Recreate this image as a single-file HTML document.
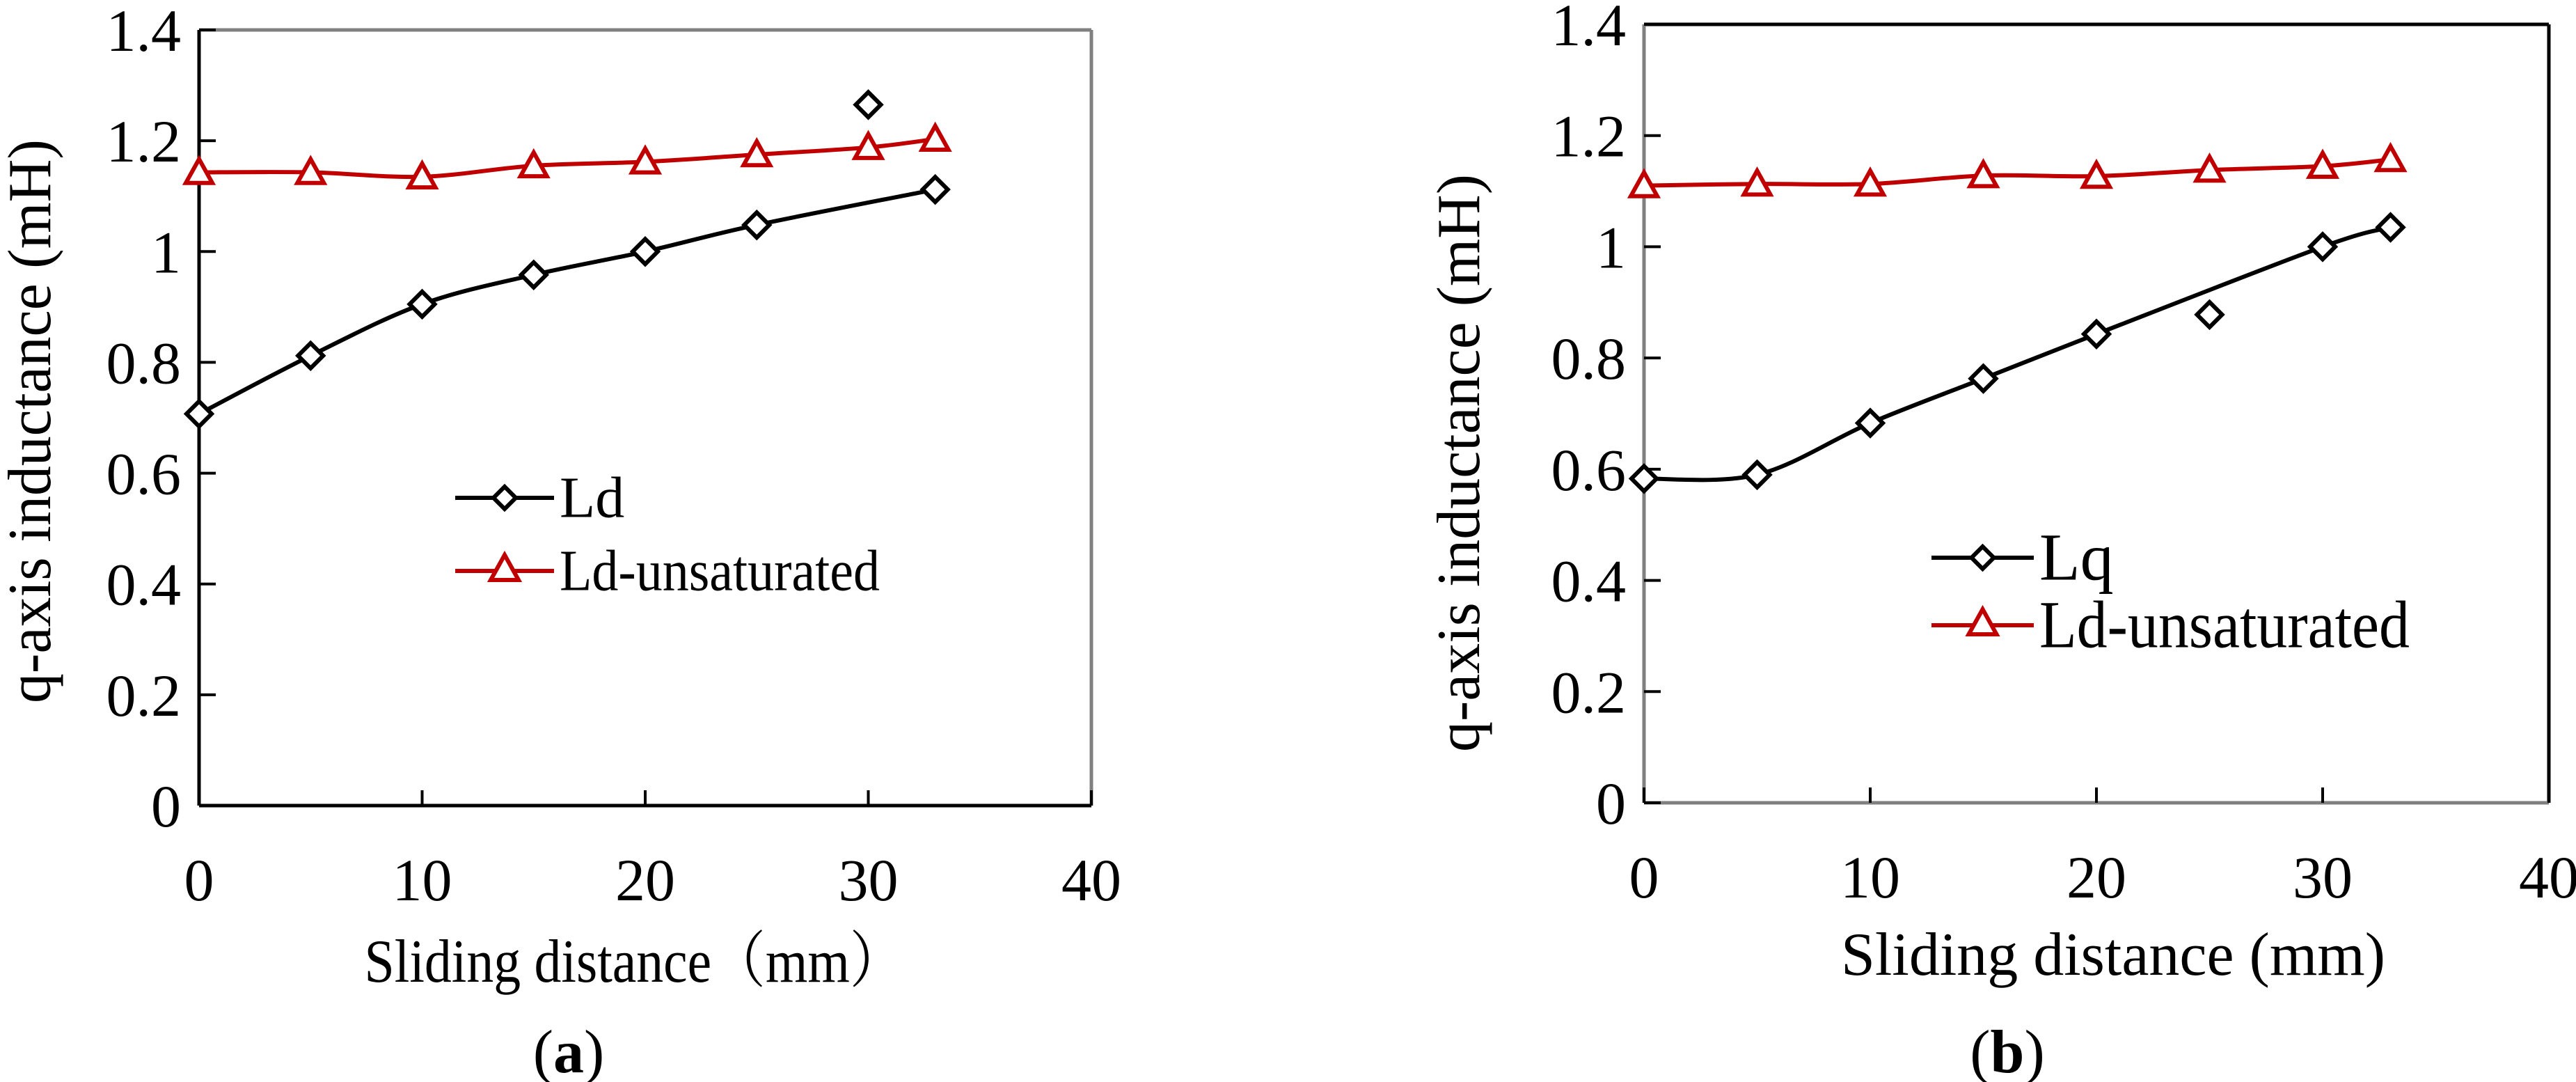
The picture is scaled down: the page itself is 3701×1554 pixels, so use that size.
<!DOCTYPE html>
<html><head><meta charset="utf-8">
<style>
html,body{margin:0;padding:0;background:#fff;}
svg{display:block;}
svg text{font-family:"Liberation Serif","Times New Roman","DejaVu Serif","Noto Serif CJK SC",serif !important;fill:#000;}
</style></head>
<body>
<svg id="fig" width="3701" height="1554" viewBox="0 0 3701 1554" xmlns="http://www.w3.org/2000/svg"></svg>
<script>
// ---- data ----
const xTicks = [0, 10, 20, 30, 40];
const yTicks = [0, 0.2, 0.4, 0.6, 0.8, 1, 1.2, 1.4];
const yTickLabels = ["0", "0.2", "0.4", "0.6", "0.8", "1", "1.2", "1.4"];
const distA = [0, 5, 10, 15, 20, 25, 33];
const ldA = [0.707, 0.812, 0.905, 0.958, 1.0, 1.048, 1.112];
const ldOutlierX = [30];
const ldOutlierY = [1.265];
const unsatDistA = [0, 5, 10, 15, 20, 25, 30, 33];
const unsatA = [1.143, 1.143, 1.135, 1.155, 1.162, 1.175, 1.188, 1.203];
const distB = [0, 5, 10, 15, 20, 30, 33];
const lqB = [0.583, 0.590, 0.683, 0.763, 0.843, 1.0, 1.035];
const lqOutlierX = [25];
const lqOutlierY = [0.878];
const unsatDistB = [0, 5, 10, 15, 20, 25, 30, 33];
const unsatB = [1.110, 1.113, 1.113, 1.128, 1.127, 1.138, 1.145, 1.157];

const NS = "http://www.w3.org/2000/svg";
const svg = document.getElementById('fig');
const FONT = "'Liberation Serif', 'Times New Roman', 'DejaVu Serif', 'Noto Serif CJK SC', serif";
function mk(tag, attrs, parent) {
  const e = document.createElementNS(NS, tag);
  for (const k in attrs) e.setAttribute(k, attrs[k]);
  if (tag === 'text') e.style.fontFamily = FONT;
  (parent || svg).appendChild(e);
  return e;
}
function smoothPath(pts) {
  let d = "M" + pts[0][0] + "," + pts[0][1];
  for (let i = 0; i < pts.length - 1; i++) {
    const p0 = pts[i - 1] || pts[i], p1 = pts[i], p2 = pts[i + 1], p3 = pts[i + 2] || p2;
    const t = 6;
    const c1 = [p1[0] + (p2[0] - p0[0]) / t, p1[1] + (p2[1] - p0[1]) / t];
    const c2 = [p2[0] - (p3[0] - p1[0]) / t, p2[1] - (p3[1] - p1[1]) / t];
    d += " C" + c1[0] + "," + c1[1] + " " + c2[0] + "," + c2[1] + " " + p2[0] + "," + p2[1];
  }
  return d;
}
function diamond(g, cx, cy, r) {
  return mk('polygon', {points: `${cx},${cy-r} ${cx+r},${cy} ${cx},${cy+r} ${cx-r},${cy}`, fill: '#fff', stroke: '#000', 'stroke-width': 6}, g);
}
function triangle(g, cx, cy, r) {
  return mk('polygon', {points: `${cx},${cy-r} ${cx+r},${cy+r*0.8} ${cx-r},${cy+r*0.8}`, fill: '#fff', stroke: '#c00000', 'stroke-width': 6}, g);
}

function chart(cfg) {
  const g = mk('g', {});
  
  
  const L = cfg.left, R = cfg.right, T = cfg.top, B = cfg.bottom;
  const sx = v => L + (v - 0) / 40 * (R - L);
  const sy = v => B - v / 1.4 * (B - T);
  const fr = mk('g', {}, g);
  
  
  mk('line', {x1: L, y1: T, x2: R, y2: T, stroke: cfg.topCol, 'stroke-width': 5}, fr);
  mk('line', {x1: R, y1: T, x2: R, y2: B, stroke: cfg.topCol, 'stroke-width': 5}, fr);
  mk('line', {x1: L, y1: T, x2: L, y2: B, stroke: cfg.axCol, 'stroke-width': 5}, fr);
  mk('line', {x1: L, y1: B, x2: R, y2: B, stroke: cfg.axCol, 'stroke-width': 5}, fr);
  yTicks.forEach((v, i) => {
    const y = sy(v);
    const tk = mk('line', {x1: L, y1: y, x2: L + 24, y2: y, stroke: '#000', 'stroke-width': 4}, g);
    
    
    const t = mk('text', {x: L - 26, y: y + 30, 'text-anchor': 'end', 'font-size': 86}, g);
    t.textContent = yTickLabels[i];
    
    
  });
  xTicks.forEach(v => {
    const x = sx(v);
    const tk = mk('line', {x1: x, y1: B, x2: x, y2: B - 22, stroke: '#000', 'stroke-width': 4}, g);
    
    
    const t = mk('text', {x: x, y: B + 136, 'text-anchor': 'middle', 'font-size': 86}, g);
    t.textContent = String(v);
    
    
  });
  const yt = mk('text', {x: 0, y: 0, 'text-anchor': 'middle', 'font-size': 88, textLength: cfg.yTitleLen, lengthAdjust: 'spacingAndGlyphs', transform: `translate(${cfg.yTitleX},${cfg.yTitleY}) rotate(-90)`}, g);
  yt.textContent = 'q-axis inductance (mH)';
  
  
  const xt = mk('text', {x: cfg.xTitleX, y: cfg.xTitleY, 'text-anchor': 'middle', 'font-size': 88, textLength: cfg.xTitleLen, lengthAdjust: 'spacingAndGlyphs'}, g);
  xt.textContent = cfg.xTitle;
  
  
  const pl = mk('text', {x: cfg.panelX, y: 1540, 'text-anchor': 'middle', 'font-size': 88}, g);
  pl.innerHTML = '(<tspan font-weight="bold">' + cfg.panel + '</tspan>)';
  
  
  const up = cfg.unX.map((v, i) => [sx(v), sy(cfg.unY[i])]);
  const ul = mk('path', {d: smoothPath(up), fill: 'none', stroke: '#c00000', 'stroke-width': 6}, g);
  
  
  up.forEach(p => {
    const m = triangle(g, p[0], p[1], 19);
    
    
  });
  const mp = cfg.mainX.map((v, i) => [sx(v), sy(cfg.mainY[i])]);
  const ml = mk('path', {d: smoothPath(mp), fill: 'none', stroke: '#000', 'stroke-width': 6}, g);
  
  
  mp.forEach(p => {
    const m = diamond(g, p[0], p[1], 18);
    
    
  });
  cfg.outX.forEach((v, i) => {
    const m = diamond(g, sx(v), sy(cfg.outY[i]), 18);
    
    
  });
  const lg = mk('g', {}, g);
  
  
  const lx1 = cfg.legX, lx2 = cfg.legX + cfg.legW, lc = (lx1 + lx2) / 2;
  const e1 = mk('g', {}, lg);
  
  
  mk('line', {x1: lx1, y1: cfg.legY1, x2: lx2, y2: cfg.legY1, stroke: '#000', 'stroke-width': 6}, e1);
  diamond(e1, lc, cfg.legY1, 16);
  const t1 = mk('text', {x: lx2 + 8, y: cfg.legY1 + cfg.legFs * 0.33, 'font-size': cfg.legFs}, e1);
  t1.textContent = cfg.mainLabel;
  const e2 = mk('g', {}, lg);
  
  
  mk('line', {x1: lx1, y1: cfg.legY2, x2: lx2, y2: cfg.legY2, stroke: '#c00000', 'stroke-width': 6}, e2);
  triangle(e2, lc, cfg.legY2 - 3, 20);
  const t2 = mk('text', {x: lx2 + 8, y: cfg.legY2 + cfg.legFs * 0.33, 'font-size': cfg.legFs, textLength: cfg.legLen, lengthAdjust: 'spacingAndGlyphs'}, e2);
  t2.textContent = 'Ld-unsaturated';
}

chart({name: 'chart-a', left: 286, right: 1568, top: 43, bottom: 1157,
  topCol: '#808080', axCol: '#000',
  yTitleX: 72, yTitleY: 605, yTitleLen: 810, xTitleX: 911, xTitleY: 1410, xTitleLen: 775, xTitle: 'Sliding distance（mm）', panel: 'a', panelX: 817,
  mainX: distA, mainY: ldA, outX: ldOutlierX, outY: ldOutlierY, unX: unsatDistA, unY: unsatA,
  mainName: 'ld', mainLabel: 'Ld', legX: 654, legW: 142, legY1: 715, legY2: 820, legFs: 84, legLen: 460});
chart({name: 'chart-b', left: 2362, right: 3662, top: 35, bottom: 1153,
  topCol: '#000', axCol: '#808080',
  yTitleX: 2125, yTitleY: 665, yTitleLen: 830, xTitleX: 3036, xTitleY: 1400, xTitleLen: 782, xTitle: 'Sliding distance (mm)', panel: 'b', panelX: 2884,
  mainX: distB, mainY: lqB, outX: lqOutlierX, outY: lqOutlierY, unX: unsatDistB, unY: unsatB,
  mainName: 'lq', mainLabel: 'Lq', legX: 2775, legW: 147, legY1: 801, legY2: 898, legFs: 96, legLen: 532});
</script>
</body></html>
